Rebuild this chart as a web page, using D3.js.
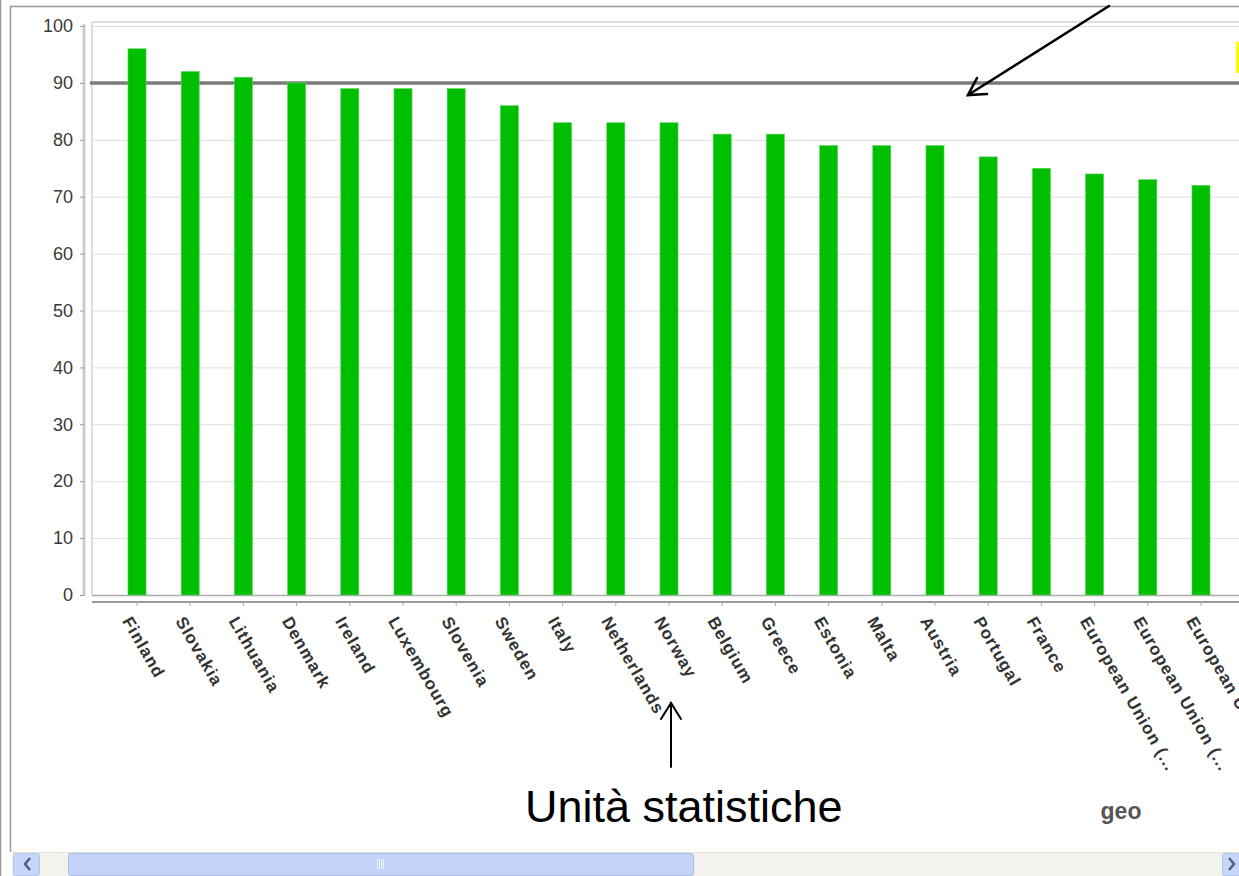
<!DOCTYPE html>
<html>
<head>
<meta charset="utf-8">
<script src="https://cdn.jsdelivr.net/npm/d3@7"></script>
<style>
  html, body { margin: 0; padding: 0; background: #fff; overflow: hidden; }
  svg { display: block; font-family: "Liberation Sans", Arial, sans-serif; }
</style>
</head>
<body>
<div id="chart"></div>
<script>
// values
const categories = ["Finland", "Slovakia", "Lithuania", "Denmark", "Ireland", "Luxembourg",
    "Slovenia", "Sweden", "Italy", "Netherlands", "Norway", "Belgium", "Greece", "Estonia",
    "Malta", "Austria", "Portugal", "France", "European Union (...", "European Union (...",
    "European Union (..."];
const values = [96, 92, 91, 90, 89, 89, 89, 86, 83, 83, 83, 81, 81, 79, 79, 79, 77, 75, 74, 73, 72];
const yTicks = [0, 10, 20, 30, 40, 50, 60, 70, 80, 90, 100];
const target = 90;
const axisName = "geo";
const note = "Unità statistiche";

const W = 1239, H = 876;
const plotLeft = 92, plotTop = 26, plotBottom = 595, axisY = 602;

const svg = d3.select("#chart").append("svg")
    .attr("width", W)
    .attr("height", H);

// outer frame
svg.append("line").attr("x1", 0.5).attr("x2", 0.5).attr("y1", 0).attr("y2", H)
    .attr("stroke", "#999").attr("stroke-width", 1.5);
svg.append("line").attr("x1", 10.5).attr("x2", 10.5).attr("y1", 6).attr("y2", 852)
    .attr("stroke", "#999").attr("stroke-width", 1.5);
svg.append("line").attr("x1", 10).attr("x2", W).attr("y1", 6.5).attr("y2", 6.5)
    .attr("stroke", "#999").attr("stroke-width", 1.5);

const y = d3.scaleLinear().domain([0, 100]).range([plotBottom, plotTop]);

const step = 53.2;
const x = d3.scaleBand()
    .domain(d3.range(categories.length))
    .range([137 - step / 2, 137 - step / 2 + step * categories.length])
    .paddingInner(0.66)
    .paddingOuter(0.33);

// plot top border (double line)
svg.append("line").attr("x1", plotLeft).attr("x2", W).attr("y1", 22).attr("y2", 22)
    .attr("stroke", "#ddd").attr("stroke-width", 2);
svg.append("line").attr("x1", plotLeft).attr("x2", plotLeft).attr("y1", 22).attr("y2", plotBottom)
    .attr("stroke", "#ddd").attr("stroke-width", 2);

// gridlines
svg.append("g").selectAll("line")
    .data(yTicks)
    .join("line")
    .attr("x1", plotLeft).attr("x2", W)
    .attr("y1", d => y(d) + 0.5).attr("y2", d => y(d) + 0.5)
    .attr("stroke", d => d === 0 ? "#aaa" : "#ddd")
    .attr("stroke-width", d => d === 0 ? 1.5 : 1);

// y axis
const yAxis = svg.append("g")
    .attr("transform", "translate(84,0)")
    .call(d3.axisLeft(y).tickValues(yTicks).tickSize(4).tickPadding(7));
yAxis.select(".domain").attr("stroke", "#ccc").attr("stroke-width", 3)
    .attr("d", `M0,24V${plotBottom + 1}`);
yAxis.selectAll(".tick line").attr("stroke", "#999");
yAxis.selectAll(".tick text")
    .attr("fill", "#3a3a3a")
    .style("font-size", "18px")
    .style("font-family", "'Liberation Sans', Arial, sans-serif");

// reference line at 90
svg.append("line")
    .attr("x1", 90).attr("x2", W)
    .attr("y1", y(target)).attr("y2", y(target))
    .attr("stroke", "#7a7a7a").attr("stroke-width", 3.5);

// bars
svg.append("g").selectAll("rect")
    .data(values)
    .join("rect")
    .attr("x", (d, i) => x(i))
    .attr("y", d => y(d))
    .attr("width", x.bandwidth())
    .attr("height", d => plotBottom - y(d))
    .attr("fill", "#00bf00")
    .attr("stroke", "#5fd65f")
    .attr("stroke-width", 0.6);

// x axis
const xAxis = svg.append("g")
    .attr("transform", `translate(0,${axisY})`)
    .call(d3.axisBottom(x).tickSize(4).tickFormat(""));
xAxis.select(".domain").attr("stroke", "#999").attr("stroke-width", 2)
    .attr("d", `M${plotLeft},0H${W}`);
xAxis.selectAll(".tick line").attr("stroke", "#aaa");

svg.append("g").selectAll("text")
    .data(categories)
    .join("text")
    .attr("transform", (d, i) => `translate(${x(i) + x.bandwidth() / 2 - 10},618) rotate(60)`)
    .attr("dy", "0.35em")
    .attr("fill", "#333")
    .style("font-size", "17px")
    .style("font-weight", "bold")
    .style("letter-spacing", "1px")
    .text(d => d);

// legend swatch peeking in at the right edge
svg.append("rect")
    .attr("x", 1236).attr("y", 42).attr("width", 10).attr("height", 31)
    .attr("fill", "#ffff00");

svg.append("text")
    .attr("x", 1121).attr("y", 819)
    .attr("text-anchor", "middle")
    .attr("fill", "#555")
    .style("font-size", "23px")
    .style("font-weight", "bold")
    .text(axisName);

// annotations
svg.append("text")
    .attr("x", 525).attr("y", 822)
    .attr("fill", "#000")
    .style("font-size", "45px")
    .text(note);

const arrows = svg.append("g").attr("stroke", "#000").attr("fill", "none")
    .attr("stroke-linecap", "round");
arrows.append("line").attr("x1", 1109).attr("y1", 6).attr("x2", 968).attr("y2", 95)
    .attr("stroke-width", 2.6);
arrows.append("path").attr("d", "M977,78L968,95L987,94").attr("stroke-width", 2.6);
arrows.append("line").attr("x1", 671).attr("y1", 767).attr("x2", 671).attr("y2", 703)
    .attr("stroke-width", 2);
arrows.append("path").attr("d", "M661,719L671,703L681,719").attr("stroke-width", 2);

// horizontal scrollbar at the bottom
const sb = svg.append("g");
sb.append("rect").attr("x", 12).attr("y", 852).attr("width", W - 12).attr("height", 24)
    .attr("fill", "#f3f2ec");
sb.append("line").attr("x1", 12).attr("x2", W).attr("y1", 852.5).attr("y2", 852.5)
    .attr("stroke", "#e6e4da");
const btn = [[13, "M30,858L25,864L30,870"], [1222, "M1229,858L1234,864L1229,870"]];
btn.forEach(([bx, p]) => {
    sb.append("rect").attr("x", bx + 0.5).attr("y", 853.5).attr("width", 26).attr("height", 22)
        .attr("rx", 2).attr("fill", "#c6d5f8").attr("stroke", "#b3c6f0");
    sb.append("path").attr("d", p).attr("fill", "none").attr("stroke", "#4d6185")
        .attr("stroke-width", 2.5);
});
sb.append("rect").attr("x", 68.5).attr("y", 853.5).attr("width", 625).attr("height", 22)
    .attr("rx", 2).attr("fill", "#c4d4f9").attr("stroke", "#a9bdee");
[377, 379, 381, 383].forEach(gx => {
    sb.append("line").attr("x1", gx + 0.5).attr("x2", gx + 0.5).attr("y1", 859).attr("y2", 869)
        .attr("stroke", "#eef3ff");
});
</script>
</body>
</html>
